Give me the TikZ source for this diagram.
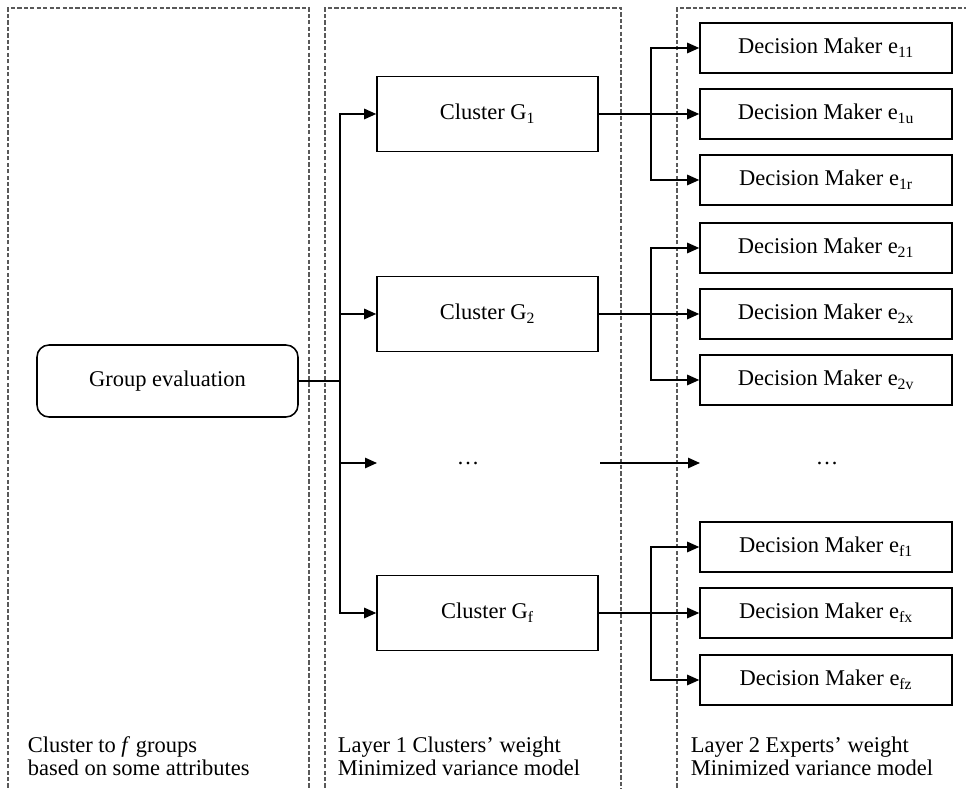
\documentclass[tikz,border=0pt]{standalone}
\usepackage{fontspec}
\setmainfont{Liberation Serif}
\usetikzlibrary{positioning,arrows.meta}

\begin{document}
\begin{tikzpicture}[>={Triangle[length=3mm,width=2.6mm]},line width=1.1pt,
  every node/.style={font=\fontsize{16}{16.6}\selectfont},
  panel/.style={draw=gray!70!black,line width=0.8pt,dash pattern=on 3pt off 1.6pt},
  clus/.style={draw,minimum width=5.525cm,minimum height=1.875cm},
  dm/.style={draw,minimum width=6.3cm,minimum height=1.25cm}]
  \useasboundingbox (0,0) rectangle (24.15,-19.725);
  % panels
  \draw[panel] (0.2,-20.5) |- (7.725,-0.2) -- (7.725,-20.5);
  \draw[panel] (8.125,-20.5) |- (15.525,-0.2) -- (15.525,-20.5);
  \draw[panel] (16.925,-20.5) |- (25,-0.2);
  % group evaluation
  \node[draw,rounded corners=0.3cm,minimum width=6.525cm,minimum height=1.8cm] (GE) at (4.1875,-9.525) {Group evaluation};
  \coordinate (T) at (8.5,-9.525);
  % layer 1
  \node[clus] (G1) at (12.1875,-2.85) {Cluster G\textsubscript{1}};
  \node[clus] (G2) at (12.1875,-7.85) {Cluster G\textsubscript{2}};
  \node[clus] (Gf) at (12.1875,-15.325) {Cluster G\textsubscript{f}};
  \node (D1) at (11.7,-11.575) {\dots};
  \coordinate (D1in) at (9.425,-11.575);
  \coordinate (D1out) at (15.0,-11.575);
  \draw (GE) -- (T);
  \draw[->] (T) |- (G1);
  \draw[->] (T) |- (G2);
  \draw[->] (T) |- (D1in);
  \draw[->] (T) |- (Gf);
  % layer 2
  \node[dm] (e11) at (20.65,-1.2) {Decision Maker e\textsubscript{11}};
  \node[dm] (e1u) at (20.65,-2.85) {Decision Maker e\textsubscript{1u}};
  \node[dm] (e1r) at (20.65,-4.5) {Decision Maker e\textsubscript{1r}};
  \node[dm] (e21) at (20.65,-6.2) {Decision Maker e\textsubscript{21}};
  \node[dm] (e2x) at (20.65,-7.85) {Decision Maker e\textsubscript{2x}};
  \node[dm] (e2v) at (20.65,-9.5) {Decision Maker e\textsubscript{2v}};
  \node (D2) at (20.675,-11.575) {\dots};
  \node[dm] (ef1) at (20.65,-13.675) {Decision Maker e\textsubscript{f1}};
  \node[dm] (efx) at (20.65,-15.325) {Decision Maker e\textsubscript{fx}};
  \node[dm] (efz) at (20.65,-17.0) {Decision Maker e\textsubscript{fz}};
  \coordinate (D2in) at (17.5,-11.575);
  \coordinate (B1) at (16.275,-2.85);
  \coordinate (B2) at (16.275,-7.85);
  \coordinate (Bf) at (16.275,-15.325);
  \draw[->] (G1) -- (e1u);
  \draw[->] (B1) |- (e11);
  \draw[->] (B1) |- (e1r);
  \draw[->] (G2) -- (e2x);
  \draw[->] (B2) |- (e21);
  \draw[->] (B2) |- (e2v);
  \draw[->] (D1out) -- (D2in);
  \draw[->] (Gf) -- (efx);
  \draw[->] (Bf) |- (ef1);
  \draw[->] (Bf) |- (efz);
  % captions
  \node[align=left,anchor=west,inner sep=0pt] (C1) at (0.675,-18.9) {Cluster to \textit{f} groups\\based on some attributes};
  \node[align=left,anchor=west,inner sep=0pt] (C2) at (8.425,-18.9) {Layer 1 Clusters’ weight\\Minimized variance model};
  \node[align=left,anchor=west,inner sep=0pt] (C3) at (17.25,-18.9) {Layer 2 Experts’ weight\\Minimized variance model};
\end{tikzpicture}
\end{document}
